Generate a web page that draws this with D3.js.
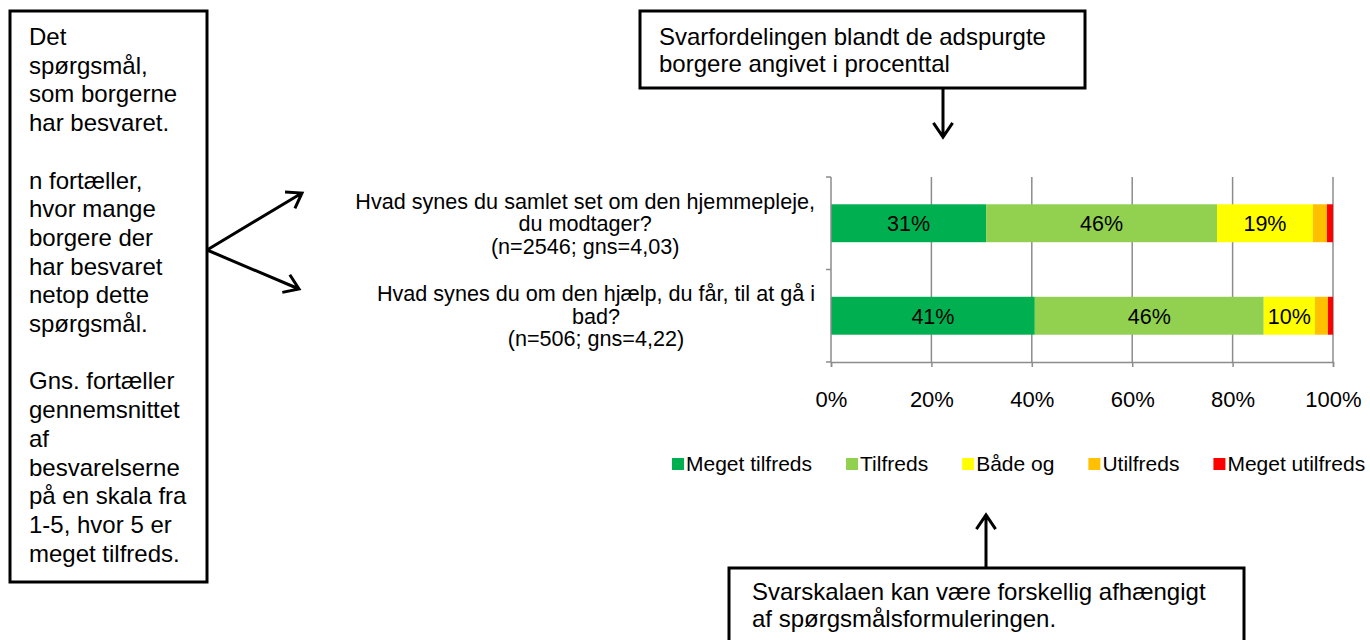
<!DOCTYPE html>
<html>
<head>
<meta charset="utf-8">
<script src="https://cdn.jsdelivr.net/npm/d3@7"></script>
<style>
  body { margin: 0; background: #fff; }
  svg { font-family: "Liberation Sans", Arial, sans-serif; }
</style>
</head>
<body>
<div id="chart"></div>
<script>
// data (percent)
var questions = ["q1", "q2"];
var questionLines = [
    ["Hvad synes du samlet set om den hjemmepleje,", "du modtager?", "(n=2546; gns=4,03)"],
    ["Hvad synes du om den hjælp, du får, til at gå i", "bad?", "(n=506; gns=4,22)"]
];
var seriesNames = ["Meget tilfreds", "Tilfreds", "Både og", "Utilfreds", "Meget utilfreds"];
var seriesColors = ["#00B050", "#92D050", "#FFFF00", "#FFC000", "#FF0000"];
var megetTilfreds = [30.9, 40.6];
var tilfreds = [46.0, 45.6];
var baadeOg = [19.1, 10.2];
var utilfreds = [2.8, 2.6];
var megetUtilfreds = [1.2, 1.0];
var xTicks = [0, 20, 40, 60, 80, 100];

var leftNote = ["Det", "spørgsmål,", "som borgerne", "har besvaret.", "",
    "n fortæller,", "hvor mange", "borgere der", "har besvaret", "netop dette", "spørgsmål.", "",
    "Gns. fortæller", "gennemsnittet", "af", "besvarelserne", "på en skala fra", "1-5, hvor 5 er", "meget tilfreds."];
var topNote = ["Svarfordelingen blandt de adspurgte", "borgere angivet i procenttal"];
var bottomNote = ["Svarskalaen kan være forskellig afhængigt", "af spørgsmålsformuleringen."];

var W = 1370, H = 640;
var svg = d3.select("#chart").append("svg")
    .attr("width", W)
    .attr("height", H);

// build stacked rows
var valueArrays = [megetTilfreds, tilfreds, baadeOg, utilfreds, megetUtilfreds];
var rows = questions.map(function (q, i) {
    var r = { q: q };
    seriesNames.forEach(function (s, j) { r[s] = valueArrays[j][i]; });
    return r;
});
var stacked = d3.stack().keys(seriesNames)(rows);

var x = d3.scaleLinear().domain([0, 100]).range([831, 1333]);
var y = d3.scaleBand().domain(questions).range([177, 362])
    .paddingInner(0.59).paddingOuter(0.295);
var color = d3.scaleOrdinal().domain(seriesNames).range(seriesColors);

// gridlines
svg.append("g").selectAll("line")
    .data(xTicks.slice(1))
    .join("line")
    .attr("x1", d => x(d)).attr("x2", d => x(d))
    .attr("y1", 177).attr("y2", 362)
    .attr("stroke", "#8c8c8c")
    .attr("stroke-width", 1.5);

// bars
var layers = svg.append("g").selectAll("g")
    .data(stacked)
    .join("g")
    .attr("fill", d => color(d.key));

layers.selectAll("rect")
    .data(d => d)
    .join("rect")
    .attr("x", d => x(d[0]))
    .attr("y", d => y(d.data.q))
    .attr("width", d => x(d[1]) - x(d[0]))
    .attr("height", y.bandwidth());

// bar value labels
layers.selectAll("text")
    .data(d => d.filter(p => p[1] - p[0] >= 5))
    .join("text")
    .attr("x", d => (x(d[0]) + x(d[1])) / 2)
    .attr("y", d => y(d.data.q) + y.bandwidth() / 2 + 8)
    .attr("text-anchor", "middle")
    .attr("fill", "#000")
    .style("font-size", "21.5px")
    .text(d => Math.round(d[1] - d[0]) + "%");

// x axis
var xAxis = svg.append("g")
    .attr("transform", "translate(0,362)")
    .call(d3.axisBottom(x).tickValues(xTicks).tickFormat(d => d + "%").tickSize(5).tickPadding(24));
xAxis.select(".domain").attr("stroke", "#8c8c8c").attr("stroke-width", 1.5);
xAxis.selectAll(".tick line").attr("stroke", "#8c8c8c").attr("stroke-width", 1.5);
xAxis.selectAll(".tick text")
    .attr("fill", "#000")
    .style("font-size", "22px")
    .style("font-family", "'Liberation Sans', Arial, sans-serif");

// y axis line with ticks at band edges
var yEdges = [177, 177 + (362 - 177) / 2, 362];
svg.append("line")
    .attr("x1", 831).attr("x2", 831).attr("y1", 177).attr("y2", 362)
    .attr("stroke", "#8c8c8c").attr("stroke-width", 1.5);
svg.append("g").selectAll("line")
    .data(yEdges)
    .join("line")
    .attr("x1", 826).attr("x2", 831)
    .attr("y1", d => d).attr("y2", d => d)
    .attr("stroke", "#8c8c8c").attr("stroke-width", 1.5);

// question labels, lines centred on widest line, block right aligned
var labelRight = 815;
questions.forEach(function (q, i) {
    var g = svg.append("g");
    var lines = questionLines[i];
    var mid = y(q) + y.bandwidth() / 2;
    var t = g.selectAll("text")
        .data(lines)
        .join("text")
        .attr("y", (d, k) => mid + 8 + (k - 1) * 22.5)
        .attr("text-anchor", "middle")
        .style("font-size", "21.6px")
        .text(d => d);
    var widest = d3.max(t.nodes(), n => n.getComputedTextLength());
    t.attr("x", labelRight - widest / 2);
});

// legend
var legend = svg.append("g");
var lx = 672;
seriesNames.forEach(function (s) {
    legend.append("rect")
        .attr("x", lx).attr("y", 458)
        .attr("width", 12).attr("height", 12)
        .attr("fill", color(s));
    var t = legend.append("text")
        .attr("x", lx + 14).attr("y", 471)
        .style("font-size", "21px")
        .text(s);
    lx += 14 + t.node().getComputedTextLength() + 34;
});

// annotation boxes
function noteBox(x0, y0, w, h, lines, tx, ty, lh) {
    svg.append("rect")
        .attr("x", x0).attr("y", y0)
        .attr("width", w).attr("height", h)
        .attr("fill", "#fff")
        .attr("stroke", "#000")
        .attr("stroke-width", 3);
    svg.append("g").selectAll("text")
        .data(lines)
        .join("text")
        .attr("x", tx)
        .attr("y", (d, k) => ty + k * lh)
        .style("font-size", "24px")
        .attr("fill", "#000")
        .text(d => d);
}
noteBox(10, 11, 197, 571, leftNote, 29, 45, 28.7);
noteBox(640, 11, 445, 77, topNote, 659, 45, 26.5);
noteBox(729, 568, 515, 90, bottomNote, 752, 600, 27);

// arrows
function arrow(x1, y1, x2, y2) {
    var a = Math.atan2(y2 - y1, x2 - x1), len = 17, spread = 0.6;
    var p = d3.path();
    p.moveTo(x1, y1); p.lineTo(x2, y2);
    p.moveTo(x2 - len * Math.cos(a - spread), y2 - len * Math.sin(a - spread));
    p.lineTo(x2, y2);
    p.lineTo(x2 - len * Math.cos(a + spread), y2 - len * Math.sin(a + spread));
    svg.append("path")
        .attr("d", p.toString())
        .attr("fill", "none")
        .attr("stroke", "#000")
        .attr("stroke-width", 3);
}
arrow(207, 250, 302, 193);
arrow(207, 250, 299, 289);
arrow(943, 88, 943, 137);
arrow(986, 568, 986, 515);
</script>
</body>
</html>
